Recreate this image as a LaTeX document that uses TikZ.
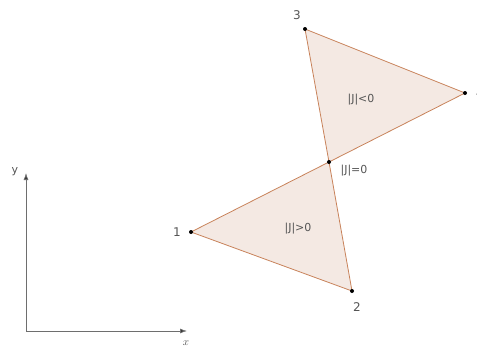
\documentclass[tikz,border=0pt]{standalone}
\usepackage{fontspec}
\setmainfont{DejaVu Sans}
\usepackage{tikz}
\usetikzlibrary{arrows.meta, positioning}
\definecolor{peachfill}{RGB}{244, 233, 227}
\definecolor{rustedge}{RGB}{200, 130, 90}
\definecolor{labelgray}{RGB}{85, 85, 85}
\definecolor{axisgray}{RGB}{110, 110, 110}

\begin{document}
\begin{tikzpicture}[
  x=1pt, y=-1pt,
  elem/.style={draw=rustedge, fill=peachfill, line width=0.8pt, line join=round},
  vdot/.style={circle, fill=black, inner sep=0pt, minimum size=4pt},
  vlabel/.style={text=labelgray, font=\fontsize{12}{14}\selectfont, inner sep=1pt},
  jlabel/.style={text=labelgray, font=\fontsize{11}{13}\selectfont, inner sep=1pt},
  axlabel/.style={text=labelgray, font=\fontsize{11}{13}\selectfont, inner sep=1pt},
  axis/.style={-{Latex[length=7pt, width=5pt, fill=black!80]}, axisgray, line width=0.8pt}
]
  \useasboundingbox (0, 0) rectangle (477, 351);

  % element corners
  \coordinate (n1) at (191, 232);
  \coordinate (n2) at (352, 291);
  \coordinate (n3) at (305, 29);
  \coordinate (n4) at (465, 93);
  \coordinate (nm) at (329, 162);

  \filldraw[elem] (n1) -- (n2) -- (nm) -- cycle;
  \filldraw[elem] (nm) -- (n4) -- (n3) -- cycle;

  \foreach \p in {n1, n2, n3, n4, nm}
    \node[vdot] at (\p) {};

  \node[vlabel] (lab1) at (177, 232) {1};
  \node[vlabel] (lab2) at (357, 307) {2};
  \node[vlabel] (lab3) at (297, 15) {3};
  \node[vlabel] (lab4) at (480, 93) {4};

  \node[jlabel] (jneg) at (361, 100) {|J|<0};
  \node[jlabel] (jpos) at (298, 229) {|J|>0};
  \node[jlabel] (jzero) at (354, 171) {|J|=0};

  % axes
  \coordinate (origin) at (26, 331);
  \coordinate (xend) at (187, 331);
  \coordinate (yend) at (26, 173);
  \draw[axis] (origin) -- (xend);
  \draw[axis] (origin) -- (yend);
  \node[axlabel] (xlab) at (186, 343) {$x$};
  \node[axlabel] (ylab) at (15, 172) {y};
\end{tikzpicture}
\end{document}
